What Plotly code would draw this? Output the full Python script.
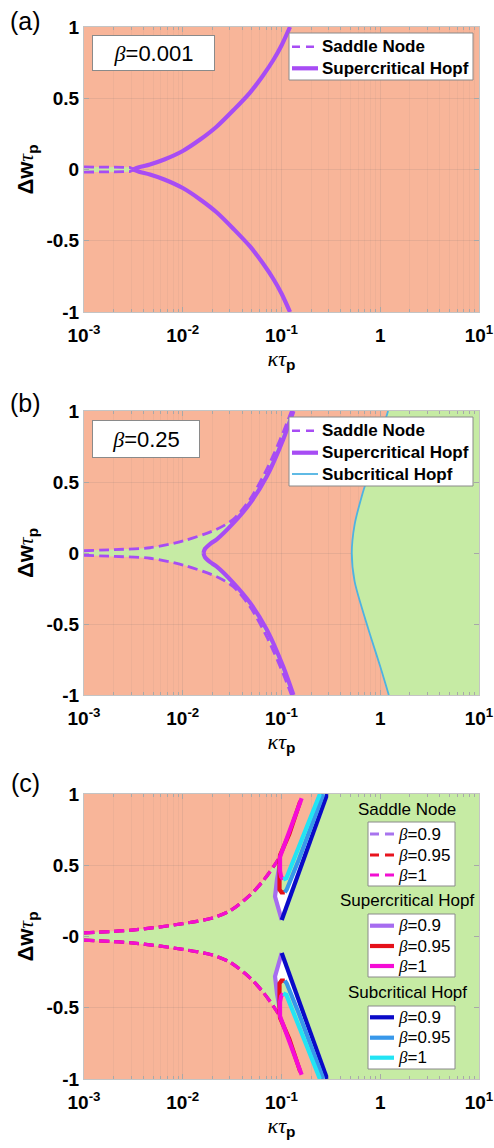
import plotly.graph_objects as go

# ---------------- data ----------------
# panel (a), beta = 0.001
A_SN_K = [0.001, 0.0015, 0.0022, 0.0029, 0.00316]
A_SN_W = [0.018, 0.018, 0.018, 0.015, 0.004]
A_HOPF_K = [0.00316, 0.0036, 0.00465, 0.0065, 0.01, 0.015, 0.022, 0.033, 0.048, 0.065, 0.083, 0.1, 0.122]
A_HOPF_W = [0.0, 0.015, 0.035, 0.07, 0.13, 0.21, 0.30, 0.42, 0.54, 0.66, 0.77, 0.87, 1.0]

# panel (b), beta = 0.25
B_SN_K = [0.001, 0.002, 0.00466, 0.0101, 0.0221, 0.0325, 0.048, 0.071, 0.104, 0.126]
B_SN_W = [0.016, 0.024, 0.037, 0.085, 0.167, 0.237, 0.378, 0.59, 0.85, 1.0]
B_HOPF_K = [0.0162, 0.0168, 0.019, 0.0221, 0.0325, 0.048, 0.071, 0.104, 0.132]
B_HOPF_W = [0.0, 0.03, 0.065, 0.096, 0.21, 0.35, 0.54, 0.80, 1.0]
B_SUB_K = [1.2, 0.98, 0.8, 0.65, 0.55, 0.515, 0.55, 0.66, 0.81, 1.0, 1.22]
B_SUB_W = [1.0, 0.8, 0.6, 0.4, 0.2, 0.0, -0.2, -0.4, -0.6, -0.8, -1.0]

# panel (c), beta = 0.9 / 0.95 / 1 (saddle-node curves coincide at this scale)
C_SN_K = [0.001, 0.0032, 0.01, 0.02, 0.03, 0.048, 0.065, 0.083, 0.0966]
C_SN_W = [0.025, 0.046, 0.09, 0.13, 0.18, 0.29, 0.39, 0.49, 0.56]
C_H09_K = [0.0955, 0.09, 0.086, 0.0927, 0.1005]
C_H09_W = [0.50, 0.40, 0.28, 0.20, 0.116]
C_H095_K = [0.155, 0.12, 0.0966, 0.0955, 0.0955, 0.1, 0.108]
C_H095_W = [0.95, 0.72, 0.57, 0.50, 0.33, 0.31, 0.31]
C_H1_K = [0.16, 0.13, 0.11, 0.0966, 0.0966, 0.099, 0.104]
C_H1_W = [0.97, 0.80, 0.665, 0.56, 0.46, 0.42, 0.40]
C_S09_K = [0.1005, 0.14, 0.2, 0.29]
C_S09_W = [0.116, 0.39, 0.69, 1.0]
C_S095_K = [0.108, 0.113, 0.15, 0.2, 0.265]
C_S095_W = [0.31, 0.33, 0.54, 0.77, 1.0]
C_S1_K = [0.104, 0.112, 0.15, 0.2, 0.245]
C_S1_W = [0.40, 0.41, 0.63, 0.85, 1.0]

SERIF = "Liberation Serif, Times New Roman, serif"
BETA = '<span style="font-family:%s"><i>β</i></span>' % SERIF
BETA_LABELS = [BETA + "=0.9", BETA + "=0.95", BETA + "=1"]
X_TICKS = [0.001, 0.01, 0.1, 1, 10]
X_TICKTEXT = ["10<sup>-3</sup>", "10<sup>-2</sup>", "10<sup>-1</sup>", "1", "10<sup>1</sup>"]
X_MINOR = [m * 10.0 ** e for e in range(-3, 1) for m in range(2, 10)]
Y_TICKS = [-1, -0.5, 0, 0.5, 1]
Y_TICKTEXT = ["-1", "-0.5", "0", "0.5", "1"]
Y_TICKTEXT_C = ["-1", "-0.5", "-0", "0.5", "1"]

# ---------------- style ----------------
F = "Liberation Sans, Arial, Helvetica, sans-serif"
SALMON = "#F8B599"
GREEN = "#C6EBA4"
PURPLE = "#A74CF4"
SUBBLUE = "#4DB3E2"
C_COL_SN = ["#A874EE", "#E8141E", "#F20FD2"]
C_COL_H = ["#A66CF0", "#E5101A", "#F50CD6"]
C_COL_S = ["#0A0AC8", "#3898EA", "#22E4F4"]
W, H = 494, 1148
PX0, PX1 = 84, 479
PANEL_TOP = [27, 411, 794]
PANEL_BOT = [312, 695, 1079]
SN_DASH = "10px,5px"


def both(k, w):
    """Upper branch plus its mirror image, separated by a gap."""
    return k + [None] + k, w + [None] + [-v for v in w]


def mirror_poly(k, w):
    """Closed outline: upper branch left-to-right, then mirrored branch back."""
    return k + k[::-1], w + [-v for v in w[::-1]]


fig = go.Figure()


def fill(xa, ya, k, w, color, shape="linear"):
    fig.add_trace(go.Scatter(x=k, y=w, xaxis=xa, yaxis=ya, mode="lines", fill="toself",
                             fillcolor=color, line=dict(width=0, shape=shape),
                             showlegend=False, hoverinfo="skip"))


def curve(xa, ya, k, w, color, width, dash="solid", shape="linear"):
    fig.add_trace(go.Scatter(x=k, y=w, xaxis=xa, yaxis=ya, mode="lines",
                             line=dict(color=color, width=width, dash=dash, shape=shape,
                                       smoothing=0.8),
                             showlegend=False, hoverinfo="skip"))


# ---- panel (a)
k, w = mirror_poly(A_SN_K, A_SN_W)
fill("x", "y", k, w, GREEN)
k, w = both(A_SN_K, A_SN_W)
curve("x", "y", k, w, PURPLE, 2.8, SN_DASH)
k, w = both(A_HOPF_K, A_HOPF_W)
curve("x", "y", k, w, PURPLE, 4.2, shape="spline")

# ---- panel (b)
up_k = B_SN_K + B_HOPF_K[::-1]
up_w = B_SN_W + B_HOPF_W[::-1]
fill("x2", "y2", up_k + up_k[::-1], up_w + [-v for v in up_w[::-1]], GREEN, "spline")
fill("x2", "y2", B_SUB_K + [10, 10], B_SUB_W + [-1, 1], GREEN)
k, w = both(B_SN_K, B_SN_W)
curve("x2", "y2", k, w, PURPLE, 2.8, SN_DASH, "spline")
k, w = both(B_HOPF_K, B_HOPF_W)
curve("x2", "y2", k, w, PURPLE, 4.2, shape="spline")
curve("x2", "y2", B_SUB_K, B_SUB_W, SUBBLUE, 1.8, shape="spline")

# ---- panel (c)
# stable (green) region: inside the saddle-node curves and right of the subcritical branch
gk = C_SN_K + C_H1_K[3:] + C_S1_K + [10]
gw = C_SN_W + C_H1_W[3:] + C_S1_W + [1]
k, w = mirror_poly(gk, gw)
fill("x3", "y3", k, w, GREEN)
# pocket between the Hopf branches (white)
pk = C_H09_K[::-1][:3] + [C_H095_K[4]] + C_S095_K + C_S09_K[::-1]
pw = C_H09_W[::-1][:3] + [C_H095_W[4]] + C_S095_W + C_S09_W[::-1]
fill("x3", "y3", pk, pw, "white")
fill("x3", "y3", pk, [-v for v in pw], "white")

for i in range(3):
    k, w = both(C_SN_K, C_SN_W)
    curve("x3", "y3", k, w, C_COL_SN[i], 3.2, SN_DASH, "spline")
for i, (hk, hw) in enumerate([(C_H09_K, C_H09_W), (C_H095_K, C_H095_W), (C_H1_K, C_H1_W)]):
    k, w = both(hk, hw)
    curve("x3", "y3", k, w, C_COL_H[i], 4.2)
for i, (sk, sw) in enumerate([(C_S09_K, C_S09_W), (C_S095_K, C_S095_W), (C_S1_K, C_S1_W)]):
    k, w = both(sk, sw)
    curve("x3", "y3", k, w, C_COL_S[i], 4.2)

# ---------------- axes ----------------
GRID = "rgba(110,110,110,0.13)"
MINOR_GRID = "rgba(110,110,110,0.07)"
TICKFONT = dict(family=F, size=19, color="black", weight="bold")
KAPPA_TAU = '<span style="font-family:%s"><i>κτ</i></span><sub><b>p</b></sub>' % SERIF
DW_TAU = '<b>Δw</b><span style="font-family:%s"><i>τ</i></span><sub><b>p</b></sub>' % SERIF


def xaxis(anchor):
    return dict(type="log", range=[-3, 1], domain=[PX0 / W, PX1 / W], anchor=anchor,
                tickmode="array", tickvals=X_TICKS, ticktext=X_TICKTEXT, tickfont=TICKFONT,
                ticks="inside", ticklen=5, tickcolor="#a8a8a8", showline=True,
                linecolor="#c4c4c4", linewidth=1, mirror="ticks", showgrid=True,
                gridcolor=GRID, zeroline=False, automargin=False, ticklabelstandoff=6,
                minor=dict(tickmode="array", tickvals=X_MINOR, ticks="inside", ticklen=3,
                           tickcolor="#a8a8a8", showgrid=True, gridcolor=MINOR_GRID),
                title=dict(text=KAPPA_TAU, font=dict(family=F, size=22, color="black"),
                           standoff=2))


def yaxis(anchor, i, ticktext):
    top, bot = PANEL_TOP[i], PANEL_BOT[i]
    return dict(range=[-1, 1], domain=[1 - bot / H, 1 - top / H], anchor=anchor,
                tickmode="array", tickvals=Y_TICKS, ticktext=ticktext, tickfont=TICKFONT,
                ticks="inside", ticklen=5, tickcolor="#a8a8a8", showline=True,
                linecolor="#c4c4c4", linewidth=1, mirror="ticks", showgrid=True,
                gridcolor=GRID, zeroline=False, automargin=False,
                title=dict(text=DW_TAU, font=dict(family=F, size=22, color="black"),
                           standoff=6))


# ---------------- legends, labels ----------------
shapes = []
annotations = []


def px(x):
    return x / W


def py(y):
    return 1 - y / H


def box(x0, x1, y0, y1):
    shapes.append(dict(type="rect", xref="paper", yref="paper", x0=px(x0), x1=px(x1),
                       y0=py(y1), y1=py(y0), fillcolor="white",
                       line=dict(color="#8a8a8a", width=1), layer="above"))


def text(t, x, y, size, xanchor="center", bold=False):
    annotations.append(dict(text=t, x=px(x), y=py(y), xref="paper", yref="paper",
                            xanchor=xanchor, yanchor="middle", showarrow=False,
                            font=dict(family=F, size=size, color="black",
                                      weight="bold" if bold else "normal")))


def entry(x0, x1, y, color, width, dash, label, size, bold):
    shapes.append(dict(type="line", xref="paper", yref="paper", x0=px(x0), x1=px(x1),
                       y0=py(y), y1=py(y), line=dict(color=color, width=width, dash=dash),
                       layer="above"))
    text(label, x1 + 2, y, size, "left", bold)


# panel (a) legend
box(289, 473, 33, 80)
entry(292, 318, 46.7, PURPLE, 2.6, "8px,6px", "Saddle Node", 17, True)
entry(292, 318, 68.3, PURPLE, 4.2, "solid", "Supercritical Hopf", 17, True)
# panel (b) legend
box(289, 473, 417, 486)
entry(292, 318, 430.7, PURPLE, 2.6, "8px,6px", "Saddle Node", 17, True)
entry(292, 318, 452.7, PURPLE, 4.2, "solid", "Supercritical Hopf", 17, True)
entry(292, 318, 474.0, SUBBLUE, 1.8, "solid", "Subcritical Hopf", 17, True)
# panel (c) legends
for title, ty, (b0, b1), rows, cols, lw, dash in [
        ("Saddle Node", 809, (822, 886), (834, 855, 875), C_COL_SN, 2.8, "9px,6px"),
        ("Supercritical Hopf", 900, (914, 977), (925.7, 946, 966), C_COL_H, 4.2, "solid"),
        ("Subcritical Hopf", 992, (1006, 1069), (1017.3, 1037.7, 1057.7), C_COL_S, 4.2, "solid")]:
    text(title, 407, ty, 17)
    box(368, 455, b0, b1)
    for ry, col, lab in zip(rows, cols, BETA_LABELS):
        entry(370, 394, ry, col, lw, dash, lab, 17, False)

for lbl, ly in [("(a)", 21), ("(b)", 403), ("(c)", 783)]:
    text(lbl, 25, ly, 25)
for t, cx, cy, bw, bh in [(BETA + "=0.001", 153.5, 53, 119, 32),
                          (BETA + "=0.25", 146, 439, 104, 34)]:
    annotations.append(dict(text=t, x=px(cx), y=py(cy), xref="paper", yref="paper",
                            xanchor="center", yanchor="middle", showarrow=False,
                            bgcolor="white", bordercolor="#8a8a8a", borderwidth=1,
                            borderpad=1, width=bw, height=bh,
                            font=dict(family=F, size=22, color="black")))

fig.update_layout(
    width=W, height=H, margin=dict(l=0, r=0, t=0, b=0, autoexpand=False),
    paper_bgcolor="white", plot_bgcolor=SALMON, showlegend=False,
    xaxis=xaxis("y"), xaxis2=xaxis("y2"), xaxis3=xaxis("y3"),
    yaxis=yaxis("x", 0, Y_TICKTEXT), yaxis2=yaxis("x2", 1, Y_TICKTEXT),
    yaxis3=yaxis("x3", 2, Y_TICKTEXT_C),
    shapes=shapes, annotations=annotations,
)

fig.write_html("out.html")
